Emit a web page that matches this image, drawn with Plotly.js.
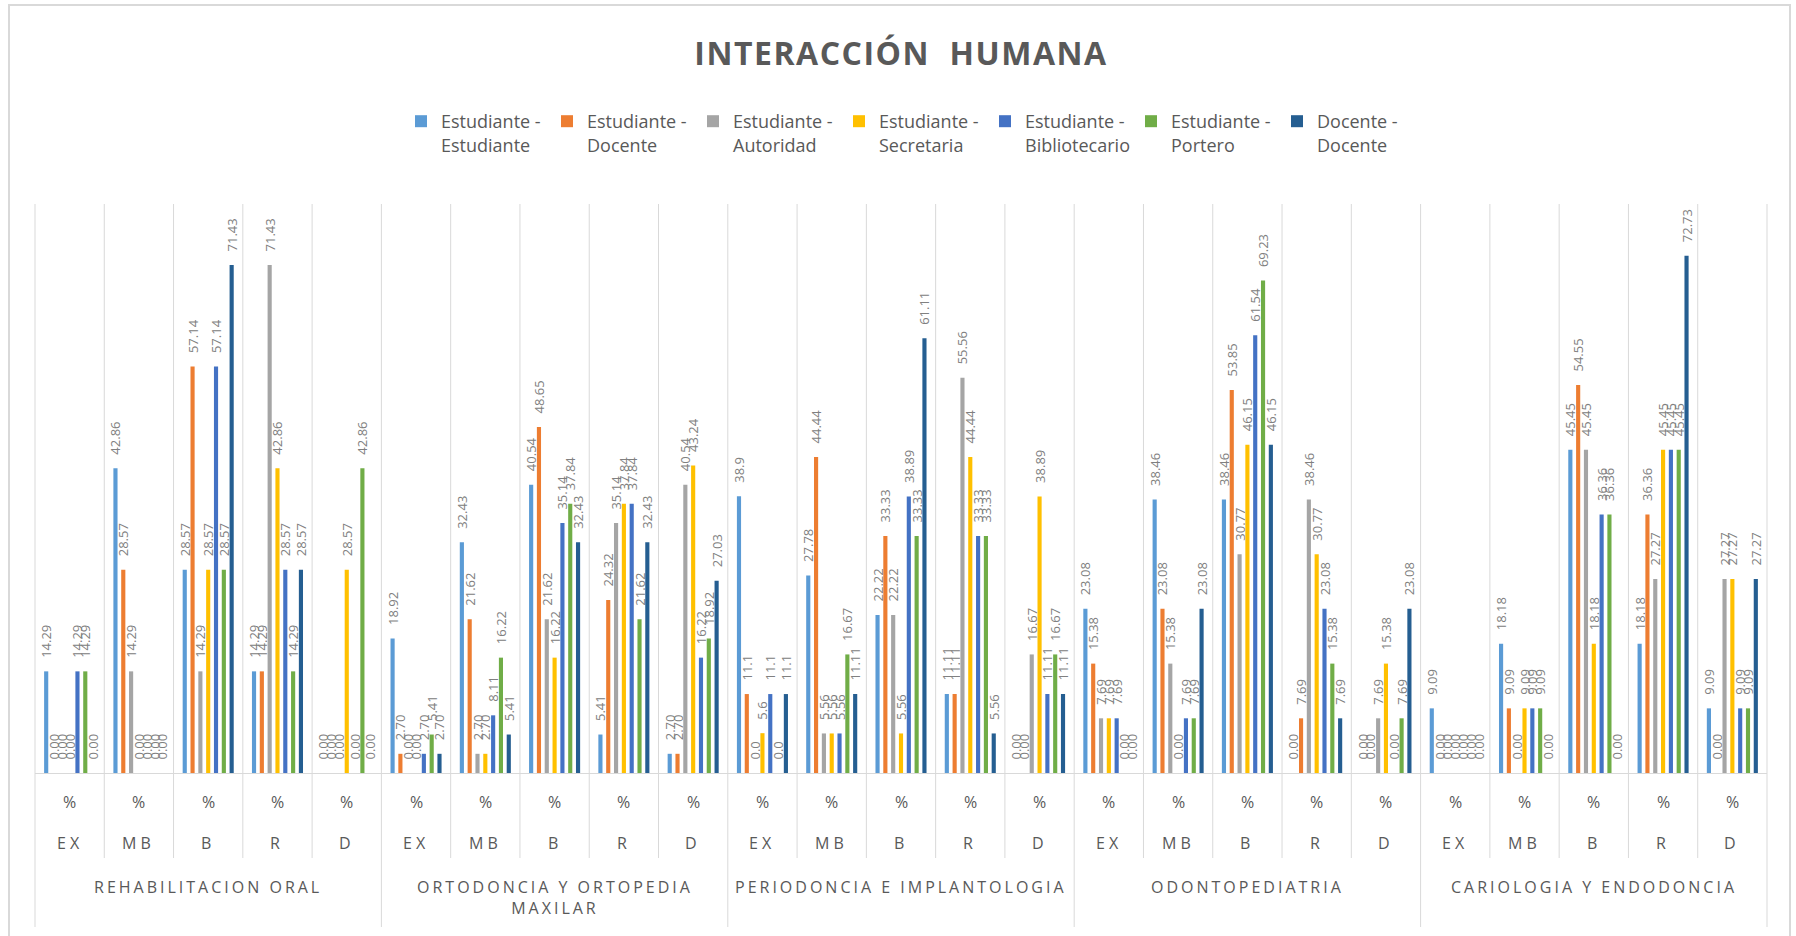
<!DOCTYPE html>
<html>
<head>
<meta charset="utf-8">
<script src="https://cdn.plot.ly/plotly-3.0.1.min.js"></script>
<style>
html,body{margin:0;padding:0;background:#ffffff;}
#chart{width:1796px;height:936px;}
</style>
</head>
<body>
<div id="chart"></div>
<script>
// ---------- DATA ----------
const groups = ['REHABILITACION ORAL', 'ORTODONCIA Y ORTOPEDIA<br>MAXILAR', 'PERIODONCIA E IMPLANTOLOGIA', 'ODONTOPEDIATRIA', 'CARIOLOGIA Y ENDODONCIA'];
const ratings = ['EX', 'MB', 'B', 'R', 'D'];
const unitLabel = '%';

const seriesNames = [
  'Estudiante -<br>Estudiante',
  'Estudiante -<br>Docente',
  'Estudiante -<br>Autoridad',
  'Estudiante -<br>Secretaria',
  'Estudiante -<br>Bibliotecario',
  'Estudiante -<br>Portero',
  'Docente -<br>Docente'
];
const seriesColors = ['#5B9BD5', '#ED7D31', '#A5A5A5', '#FFC000', '#4472C4', '#70AD47', '#255E91'];

// 25 values each: 5 groups x (EX, MB, B, R, D)
const estudianteEstudiante = [14.29, 42.86, 28.57, 14.29, 0.00,  18.92, 32.43, 40.54, 5.41, 2.70,  38.9, 27.78, 22.22, 11.11, 0.00,  23.08, 38.46, 38.46, 0.00, 0.00,  9.09, 18.18, 45.45, 18.18, 9.09];
const estudianteDocente    = [0.00, 28.57, 57.14, 14.29, 0.00,   2.70, 21.62, 48.65, 24.32, 2.70,   11.1, 44.44, 33.33, 11.11, 0.00,  15.38, 23.08, 53.85, 7.69, 0.00,  0.00, 9.09, 54.55, 36.36, 0.00];
const estudianteAutoridad  = [0.00, 14.29, 14.29, 71.43, 0.00,   0.00, 2.70, 21.62, 35.14, 40.54,   0.0, 5.56, 22.22, 55.56, 16.67,   7.69, 15.38, 30.77, 38.46, 7.69,  0.00, 0.00, 45.45, 27.27, 27.27];
const estudianteSecretaria = [0.00, 0.00, 28.57, 42.86, 28.57,   0.00, 2.70, 16.22, 37.84, 43.24,   5.6, 5.56, 5.56, 44.44, 38.89,    7.69, 0.00, 46.15, 30.77, 15.38,  0.00, 9.09, 18.18, 45.45, 27.27];
const estudianteBiblio     = [14.29, 0.00, 57.14, 28.57, 0.00,   2.70, 8.11, 35.14, 37.84, 16.22,   11.1, 5.56, 38.89, 33.33, 11.11,  7.69, 7.69, 61.54, 23.08, 0.00,  0.00, 9.09, 36.36, 45.45, 9.09];
const estudiantePortero    = [14.29, 0.00, 28.57, 14.29, 42.86,  5.41, 16.22, 37.84, 21.62, 18.92,  0.0, 16.67, 33.33, 33.33, 16.67,  0.00, 7.69, 69.23, 15.38, 7.69,  0.00, 9.09, 36.36, 45.45, 9.09];
const docenteDocente       = [0.00, 0.00, 71.43, 28.57, 0.00,    2.70, 5.41, 32.43, 32.43, 27.03,   11.1, 11.11, 61.11, 5.56, 11.11,  0.00, 23.08, 46.15, 7.69, 23.08,  0.00, 0.00, 0.00, 72.73, 27.27];

// decimals shown in the data labels of each category
const labelDecimals = [2,2,2,2,2, 2,2,2,2,2, 1,2,2,2,2, 2,2,2,2,2, 2,2,2,2,2];

const seriesValues = [estudianteEstudiante, estudianteDocente, estudianteAutoridad, estudianteSecretaria, estudianteBiblio, estudiantePortero, docenteDocente];

// ---------- BUILD ----------
const W = 1796, H = 936;
const M = {l: 35, r: 29, t: 204, b: 163};
const plotH = H - M.t - M.b;
const plotW = W - M.l - M.r;
const nCat = groups.length * ratings.length;
const plain = s => s.replace(/<br>/g, ' ');

const catKeys = [];
groups.forEach((g) => ratings.forEach((r) => catKeys.push(plain(g) + ' | ' + r)));

const pad = '\u00a0\u00a0\u00a0\u00a0';
const traces = seriesValues.map((vals, s) => ({
  type: 'bar',
  name: seriesNames[s],
  x: catKeys,
  y: vals,
  marker: {color: seriesColors[s], line: {width: 0}},
  text: vals.map((v, i) => pad + v.toFixed(labelDecimals[i])),
  textposition: 'outside',
  textangle: -90,
  constraintext: 'none',
  cliponaxis: false,
  textfont: {family: 'Open Sans', size: 13, color: '#808080'},
  hoverinfo: 'skip'
}));

const gridColor = '#d9d9d9';
const txtColor = '#595959';
const shapes = [];
for (let i = 0; i <= nCat; i++) {
  const isGroupEdge = (i % ratings.length === 0);
  const bottomPx = isGroupEdge ? 927 : 858;
  shapes.push({
    type: 'line', xref: 'paper', yref: 'paper',
    x0: i / nCat, x1: i / nCat,
    y0: -(bottomPx - (H - M.b)) / plotH, y1: 1,
    line: {color: gridColor, width: 1}
  });
}
// outer chart frame
shapes.push({
  type: 'rect', xref: 'paper', yref: 'paper',
  x0: (9 - M.l) / plotW, x1: (1790 - M.l) / plotW,
  y0: -(945 - (H - M.b)) / plotH, y1: ((H - M.b) - 5) / plotH,
  line: {color: gridColor, width: 2}
});

const annotations = [];
catKeys.forEach((k, i) => {
  annotations.push({
    x: k, xref: 'x', y: 0, yref: 'paper', yshift: -29,
    text: unitLabel, showarrow: false, xanchor: 'center', yanchor: 'middle',
    font: {family: 'Open Sans', size: 16, color: txtColor}
  });
  annotations.push({
    x: k, xref: 'x', y: 0, yref: 'paper', yshift: -70,
    text: '<span style="letter-spacing:4px">' + ratings[i % ratings.length] + '</span>',
    showarrow: false, xanchor: 'center', yanchor: 'middle',
    font: {family: 'Open Sans', size: 16, color: txtColor}
  });
});
groups.forEach((g, gi) => {
  const mid = catKeys[gi * ratings.length + Math.floor(ratings.length / 2)];
  annotations.push({
    x: mid, xref: 'x', y: 0, yref: 'paper', yshift: -101,
    text: g.split('<br>').map(t => '<span style="letter-spacing:3px">' + t + '</span>').join('<br>'),
    showarrow: false, xanchor: 'center', yanchor: 'top', align: 'center',
    font: {family: 'Open Sans', size: 16, color: txtColor}
  });
});

const layout = {
  width: W, height: H,
  margin: M,
  paper_bgcolor: '#ffffff', plot_bgcolor: '#ffffff',
  font: {family: 'Open Sans', color: txtColor},
  title: {
    text: '<span style="letter-spacing:1.5px">INTERACCIÓN\u00a0 HUMANA</span>',
    x: 901 / W, xref: 'container', xanchor: 'center',
    y: 1 - 54 / H, yref: 'container', yanchor: 'middle',
    font: {family: 'Open Sans', size: 32, color: txtColor, weight: 700}
  },
  barmode: 'group',
  bargap: 0.21,
  bargroupgap: 0.47,
  showlegend: true,
  legend: {
    orientation: 'h',
    x: (401 - M.l) / plotW, xanchor: 'left',
    y: 1 + (M.t - 103) / plotH, yanchor: 'top',
    valign: 'top',
    entrywidth: 101, entrywidthmode: 'pixels',
    font: {family: 'Open Sans', size: 18, color: txtColor},
    bgcolor: 'rgba(0,0,0,0)', borderwidth: 0
  },
  xaxis: {
    type: 'category', range: [-0.5, nCat - 0.5],
    showticklabels: false, ticks: '', showgrid: false, zeroline: false,
    showline: true, linecolor: gridColor, linewidth: 1, fixedrange: true
  },
  yaxis: {
    range: [0, 80], visible: false, showgrid: false, zeroline: false, fixedrange: true
  },
  shapes: shapes,
  annotations: annotations,
  hovermode: false
};

Plotly.newPlot('chart', traces, layout, {displayModeBar: false, staticPlot: true});
</script>
</body>
</html>
